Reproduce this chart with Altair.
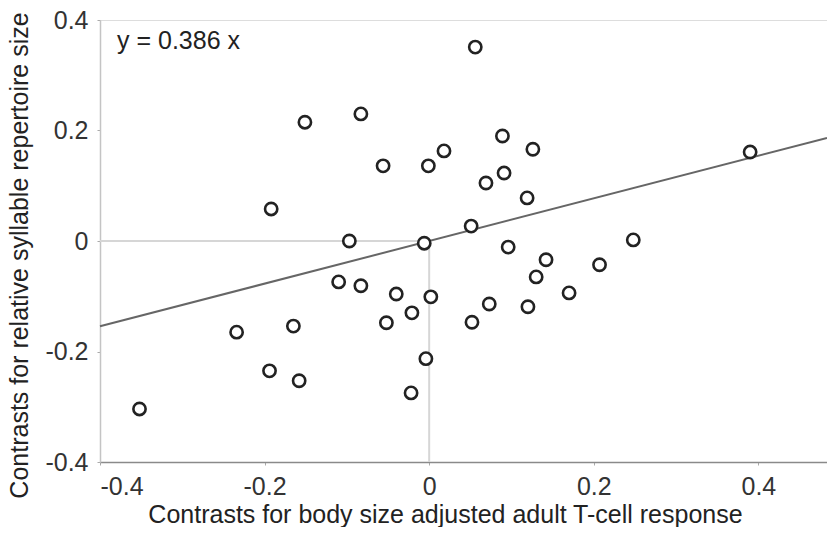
import altair as alt
import pandas as pd

# Data
x_vals = [-0.352, -0.234, -0.194, -0.192, -0.165, -0.158, -0.151, -0.110, -0.097, -0.083,
          -0.083, -0.056, -0.052, -0.040, -0.021, -0.022, -0.006, -0.004, -0.001, 0.002,
          0.018, 0.051, 0.052, 0.056, 0.069, 0.073, 0.089, 0.091, 0.096, 0.119,
          0.120, 0.126, 0.130, 0.142, 0.170, 0.207, 0.248, 0.390]
y_vals = [-0.304, -0.165, -0.235, 0.058, -0.154, -0.253, 0.215, -0.074, 0.000, -0.081,
          0.230, 0.136, -0.148, -0.096, -0.130, -0.275, -0.004, -0.213, 0.136, -0.101,
          0.163, 0.027, -0.147, 0.351, 0.105, -0.114, 0.190, 0.123, -0.011, 0.078,
          -0.119, 0.166, -0.065, -0.034, -0.094, -0.043, 0.002, 0.161]
slope = 0.386
x_domain = [-0.4, 0.4834]
y_domain = [-0.4, 0.4]
tick_values = [-0.4, -0.2, 0, 0.2, 0.4]
x_title = "Contrasts for body size adjusted adult T-cell response"
y_title = "Contrasts for relative syllable repertoire size"
eq_label = "y = 0.386 x"

FONT = "Liberation Sans"
label_expr = ("datum.value == 0 ? '0' : (datum.value < 0 ? '-' + format(-datum.value, '.1f') "
              ": format(datum.value, '.1f'))")

points = pd.DataFrame({"x": x_vals, "y": y_vals})
fit = pd.DataFrame({"x": x_domain})
refs = pd.DataFrame({"x": [x_domain[0], 0], "x2": [0, 0], "y": [0, y_domain[0]], "y2": [0, 0]})

x_axis = alt.Axis(values=tick_values, labelExpr=label_expr, grid=False, domainColor="#8a8a8a",
                  domainWidth=1.5, tickColor="#aaaaaa", tickSize=3, labelPadding=9,
                  labelFontSize=25, labelFont=FONT, labelColor="#333333",
                  title=x_title, titleFont=FONT, titleFontSize=25, titleFontWeight="normal",
                  titleColor="#222222", titleX=345, titleY=60, titleBaseline="alphabetic",
                  titleAlign="center")
y_axis = alt.Axis(values=tick_values, labelExpr=label_expr, grid=False, domainColor="#c4c4c4",
                  domainWidth=1.5, tickColor="#aaaaaa", tickSize=3, labelPadding=9,
                  labelFontSize=25, labelFont=FONT, labelColor="#333333",
                  title=y_title, titleFont=FONT, titleFontSize=25, titleFontWeight="normal",
                  titleColor="#222222", titleX=-73, titleY=235, titleAngle=270,
                  titleBaseline="alphabetic", titleAlign="center")

xs = alt.Scale(domain=x_domain, nice=False, zero=False)
ys = alt.Scale(domain=y_domain, nice=False, zero=False)

ref_layer = alt.Chart(refs).mark_rule(color="#d6d6d6", strokeWidth=2).encode(
    x=alt.X("x:Q", scale=xs, axis=x_axis), x2="x2:Q",
    y=alt.Y("y:Q", scale=ys, axis=y_axis), y2="y2:Q")

fit_layer = alt.Chart(fit).transform_calculate(y=f"{slope} * datum.x").mark_line(
    color="#666666", strokeWidth=2).encode(
    x=alt.X("x:Q", scale=xs, axis=x_axis),
    y=alt.Y("y:Q", scale=ys, axis=y_axis))

pt_layer = alt.Chart(points).mark_point(shape="circle", size=150, filled=False, fill="white",
                                         fillOpacity=1, stroke="#222222", strokeWidth=2.6,
                                         opacity=1).encode(
    x=alt.X("x:Q", scale=xs, axis=x_axis),
    y=alt.Y("y:Q", scale=ys, axis=y_axis))

txt_layer = alt.Chart(pd.DataFrame({"t": [eq_label]})).mark_text(
    align="left", baseline="alphabetic", font=FONT, fontSize=25, color="#222222").encode(
    text="t:N", x=alt.value(17), y=alt.value(29))

chart = alt.layer(ref_layer, fit_layer, pt_layer, txt_layer).properties(
    width=727, height=442,
    padding={"left": 92, "top": 12, "right": 0, "bottom": 65},
    autosize=alt.AutoSizeParams(type="none"),
).configure_view(stroke=None).configure(background="white")

chart.save("out.html", embed_options={"renderer": "svg", "actions": False})
